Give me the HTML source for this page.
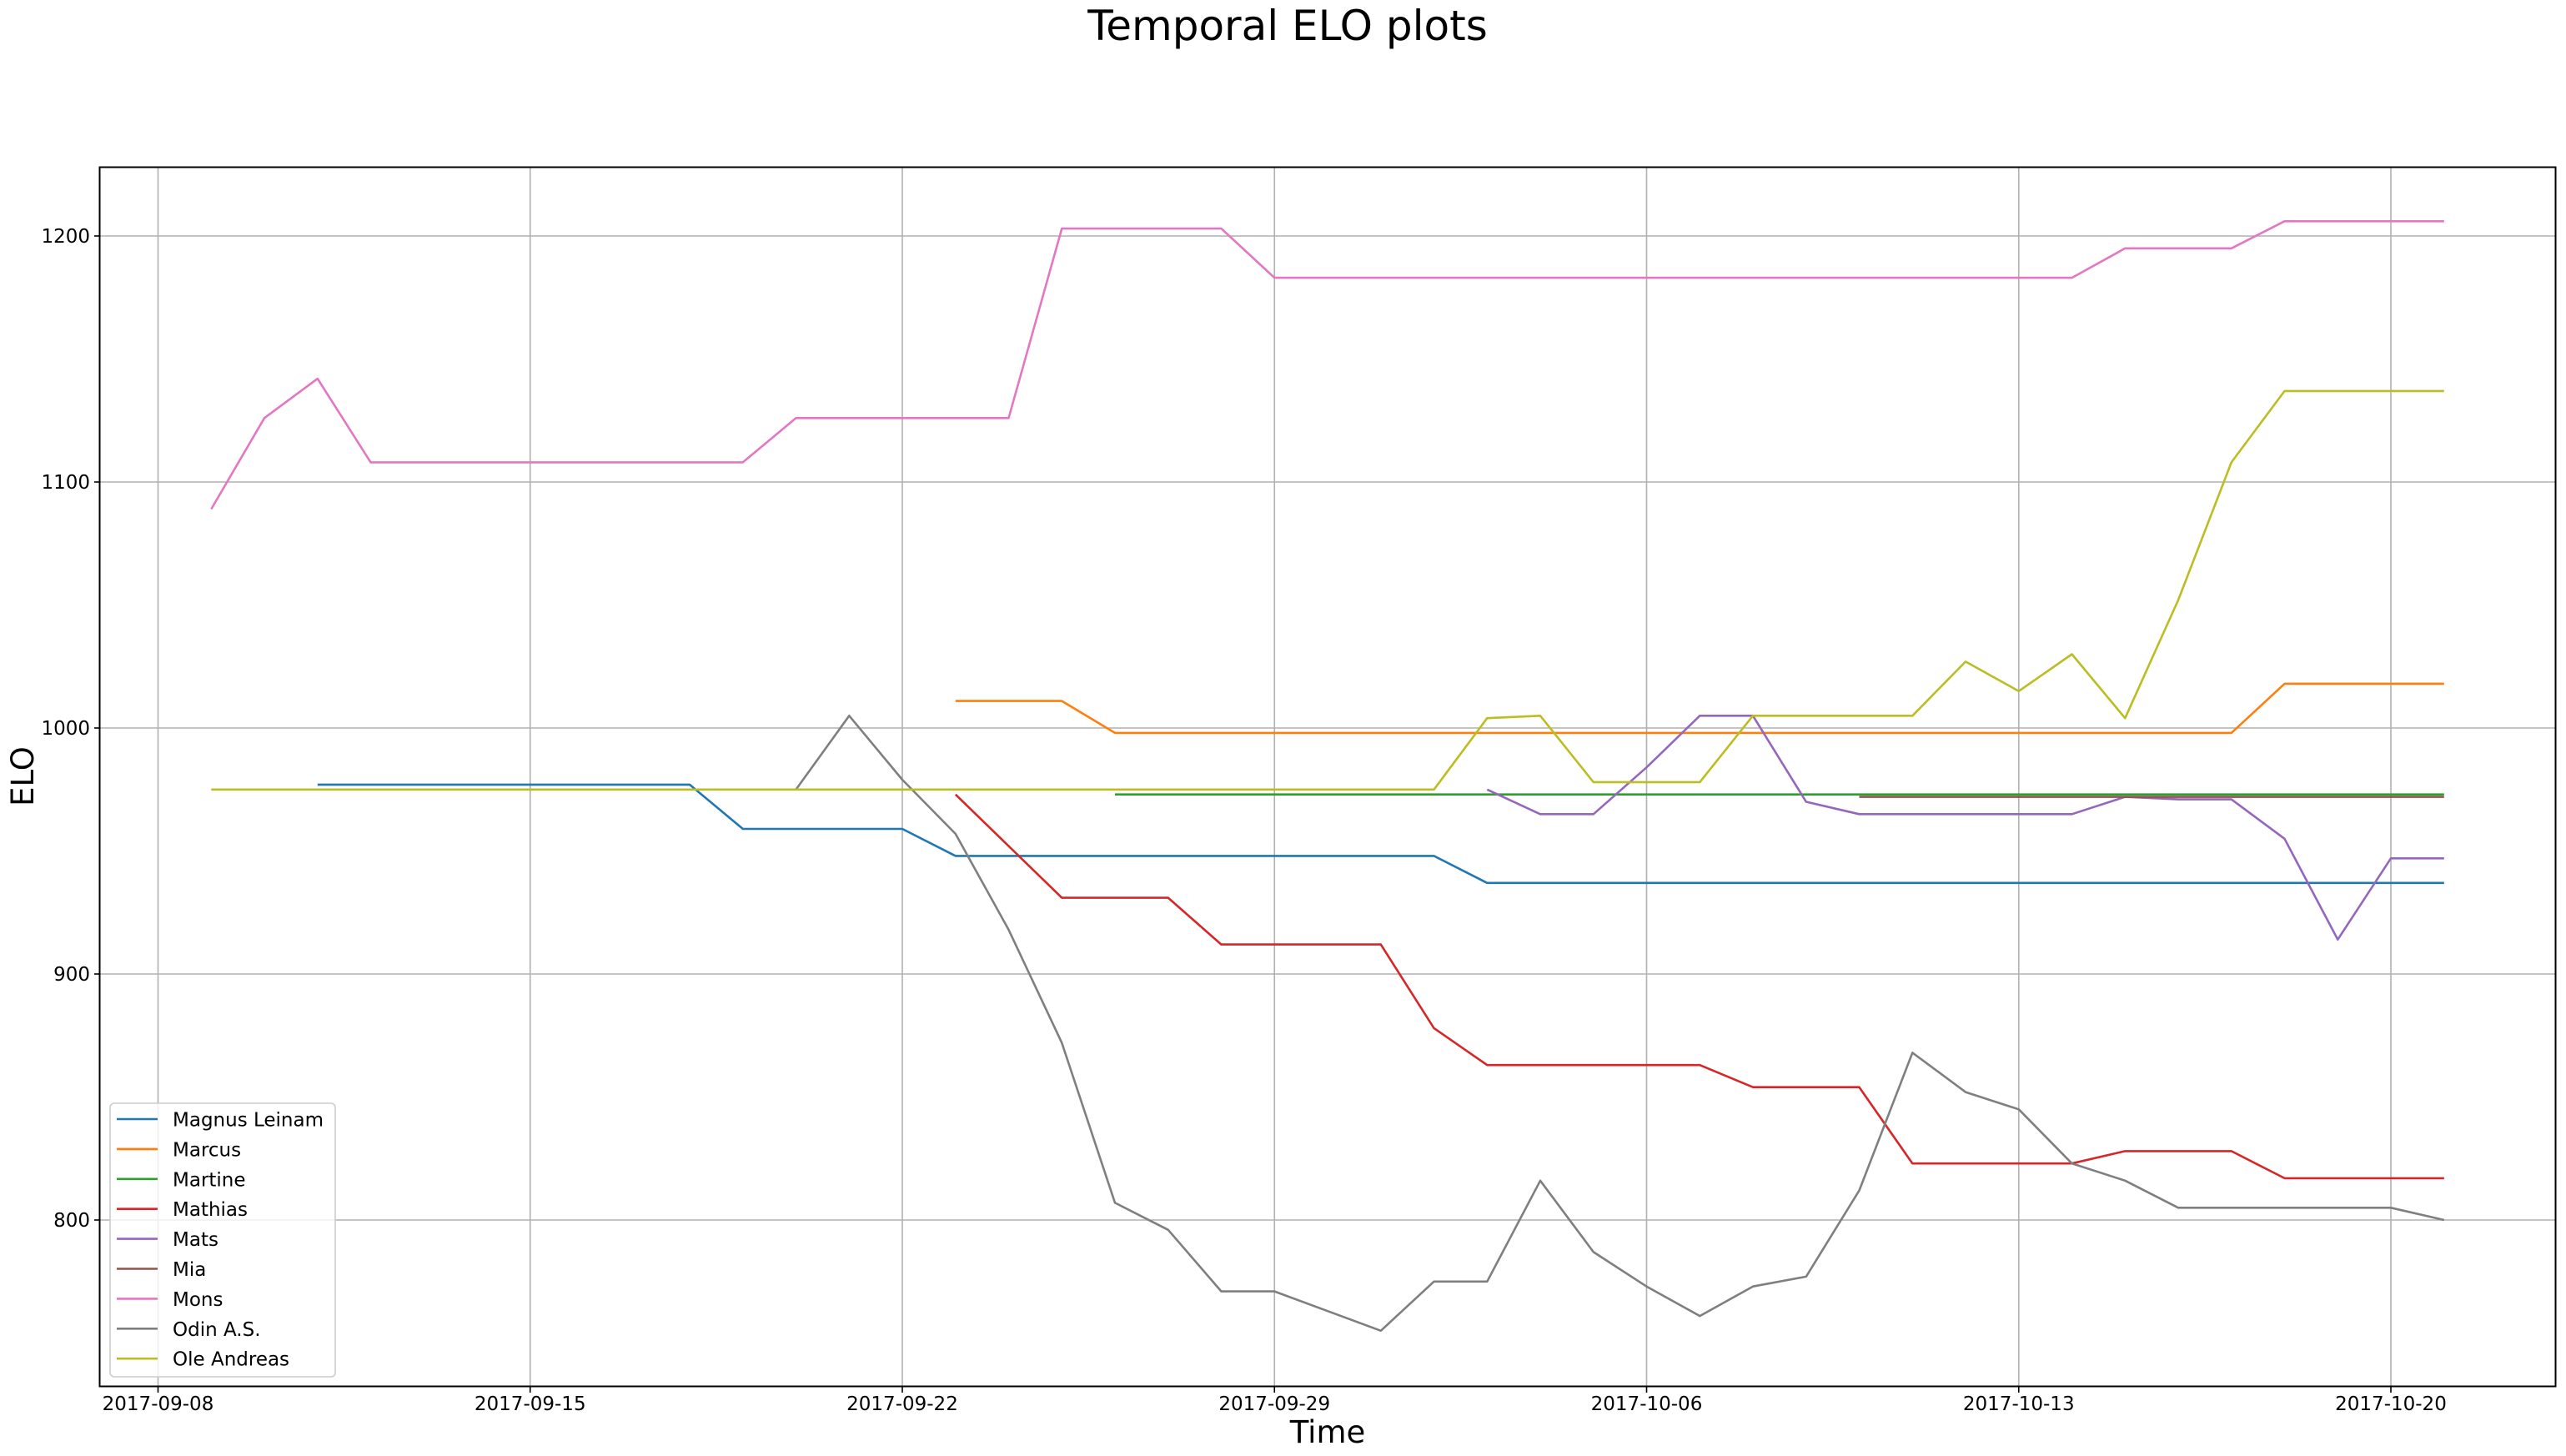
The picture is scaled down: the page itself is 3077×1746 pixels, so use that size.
<!DOCTYPE html>
<html><head><meta charset="utf-8"><style>
html,body{margin:0;padding:0;background:#fff;}
svg{display:block;font-family:"DejaVu Sans","Liberation Sans",sans-serif;}
</style></head><body>
<svg id="chart" width="3077" height="1746" viewBox="0 0 3077 1746" xmlns="http://www.w3.org/2000/svg">
<rect width="3077" height="1746" fill="#fff"/>
<text x="1544" y="48" font-size="50" text-anchor="middle">Temporal ELO plots</text>
<g id="grid"></g>
<g id="series"></g>
<rect x="119.5" y="200.5" width="2945" height="1462" fill="none" stroke="#000" stroke-width="2"/>
<g id="ticks"></g>
<text x="1592" y="1730" font-size="37" text-anchor="middle">Time</text>
<text x="40" y="931" font-size="37" text-anchor="middle" transform="rotate(-90 40 931)">ELO</text>
<g id="legend"></g>
</svg>
<script>
const names=["Magnus Leinam","Marcus","Martine","Mathias","Mats","Mia","Mons","Odin A.S.","Ole Andreas"];
const colors=["#1f77b4","#ff7f0e","#2ca02c","#d62728","#9467bd","#8c564b","#e377c2","#7f7f7f","#bcbd22"];
const N=null;
// one value per day from 2017-09-09 to 2017-10-21
const magnus=[N,N,977,977,977,977,977,977,977,977,959,959,959,959,948,948,948,948,948,948,948,948,948,948,937,937,937,937,937,937,937,937,937,937,937,937,937,937,937,937,937,937,937];
const marcus=[N,N,N,N,N,N,N,N,N,N,N,N,N,N,1011,1011,1011,998,998,998,998,998,998,998,998,998,998,998,998,998,998,998,998,998,998,998,998,998,998,1018,1018,1018,1018];
const martine=[N,N,N,N,N,N,N,N,N,N,N,N,N,N,N,N,N,973,973,973,973,973,973,973,973,973,973,973,973,973,973,973,973,973,973,973,973,973,973,973,973,973,973];
const mathias=[N,N,N,N,N,N,N,N,N,N,N,N,N,N,973,952,931,931,931,912,912,912,912,878,863,863,863,863,863,854,854,854,823,823,823,823,828,828,828,817,817,817,817];
const mats=[N,N,N,N,N,N,N,N,N,N,N,N,N,N,N,N,N,N,N,N,N,N,N,N,975,965,965,984,1005,1005,970,965,965,965,965,965,972,971,971,955,914,947,947];
const mia=[N,N,N,N,N,N,N,N,N,N,N,N,N,N,N,N,N,N,N,N,N,N,N,N,N,N,N,N,N,N,N,972,972,972,972,972,972,972,972,972,972,972,972];
const mons=[1089,1126,1142,1108,1108,1108,1108,1108,1108,1108,1108,1126,1126,1126,1126,1126,1203,1203,1203,1203,1183,1183,1183,1183,1183,1183,1183,1183,1183,1183,1183,1183,1183,1183,1183,1183,1195,1195,1195,1206,1206,1206,1206];
const odin=[N,N,N,N,N,N,N,N,N,N,N,975,1005,979,957,918,872,807,796,771,771,763,755,775,775,816,787,773,761,773,777,812,868,852,845,823,816,805,805,805,805,805,800];
const ole=[975,975,975,975,975,975,975,975,975,975,975,975,975,975,975,975,975,975,975,975,975,975,975,975,1004,1005,978,978,978,1005,1005,1005,1005,1027,1015,1030,1004,1052,1108,1137,1137,1137,1137];
const seriesData=[magnus,marcus,martine,mathias,mats,mia,mons,odin,ole];
const xTickLabels=["2017-09-08","2017-09-15","2017-09-22","2017-09-29","2017-10-06","2017-10-13","2017-10-20"];
const xTickDays=[-1,6,13,20,27,34,41];
const yTicks=[800,900,1000,1100,1200];

const NS="http://www.w3.org/2000/svg";
const X0=189.5, DAY=63.75;
function xs(d){return X0+(d+1)*DAY;}
function ys(v){return 283+(1200-v)*2.95;}
function mk(tag,attrs,parent){const e=document.createElementNS(NS,tag);for(const k in attrs)e.setAttribute(k,attrs[k]);parent.appendChild(e);return e;}
const grid=document.getElementById('grid'),ticks=document.getElementById('ticks'),ser=document.getElementById('series'),leg=document.getElementById('legend');
xTickDays.forEach((d,i)=>{
  const x=xs(d);
  const g=mk('line',{x1:x,x2:x,y1:200,y2:1663,stroke:'#b0b0b0','stroke-width':1.6},grid);
  
  
  const t=mk('line',{x1:x,x2:x,y1:1663,y2:1670,stroke:'#000','stroke-width':1.6},ticks);
  
  
  const l=mk('text',{x:x,y:1691,'font-size':23,'text-anchor':'middle'},ticks);
  l.textContent=xTickLabels[i];
  
  
});
yTicks.forEach(v=>{
  const y=ys(v);
  const g=mk('line',{x1:120,x2:3064,y1:y,y2:y,stroke:'#b0b0b0','stroke-width':1.6},grid);
  
  
  const t=mk('line',{x1:113,x2:120,y1:y,y2:y,stroke:'#000','stroke-width':1.6},ticks);
  
  
  const l=mk('text',{x:108,y:y+8,'font-size':23,'text-anchor':'end'},ticks);
  l.textContent=v;
  
  
});
seriesData.forEach((arr,s)=>{
  const pts=[];
  arr.forEach((v,i)=>{if(v!==null)pts.push(xs(i).toFixed(1)+','+ys(v).toFixed(1));});
  const p=mk('polyline',{points:pts.join(' '),fill:'none',stroke:colors[s],'stroke-width':2.6,'stroke-linejoin':'round'},ser);
  
  
});
const box=mk('rect',{x:132,y:1323,width:270,height:328,rx:5,fill:'#fff','fill-opacity':0.8,stroke:'#ccc','stroke-width':1.6},leg);


names.forEach((n,i)=>{
  const y=1342+i*35.9;
  const ln=mk('line',{x1:140,x2:189,y1:y,y2:y,stroke:colors[i],'stroke-width':2.6},leg);
  
  
  const t=mk('text',{x:207,y:y+8.5,'font-size':23},leg);
  t.textContent=n;
  
  
});
</script>
</body></html>
